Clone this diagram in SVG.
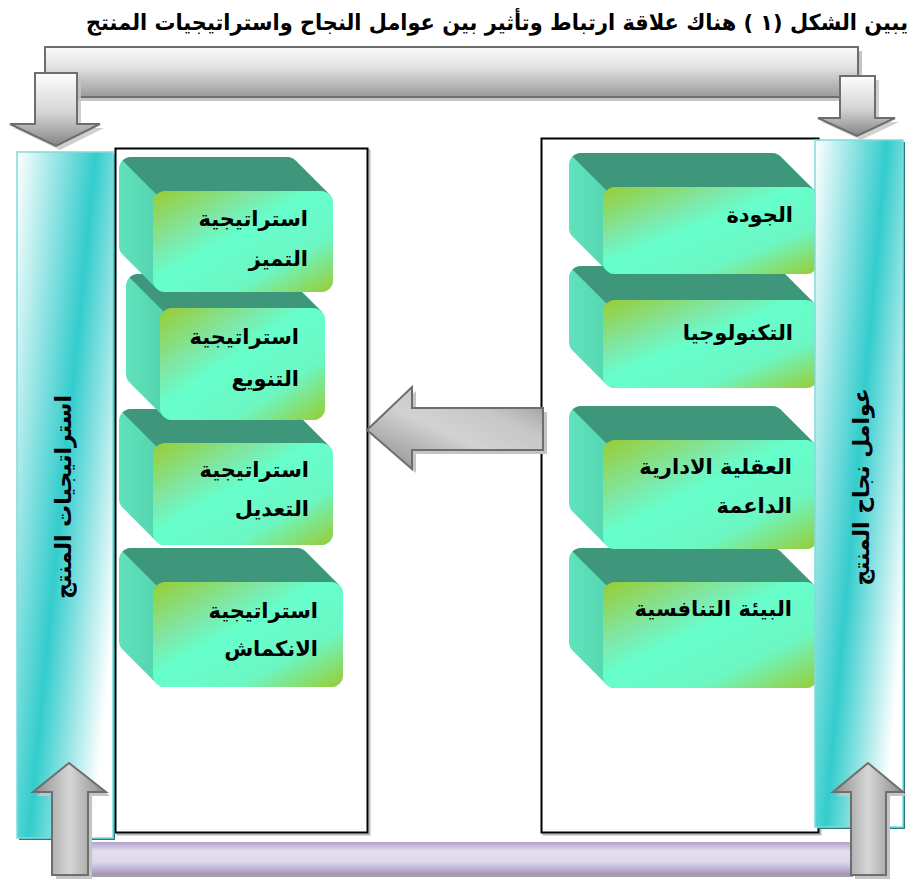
<svg xmlns="http://www.w3.org/2000/svg" width="915" height="882" viewBox="0 0 915 882">
<style>
.t{font-family:'DejaVu Sans',sans-serif;font-weight:bold;font-size:21px;fill:#000;text-anchor:end}
.title{font-family:'DejaVu Sans',sans-serif;font-weight:bold;font-size:22px;fill:#000;text-anchor:end}
.vt{font-family:'DejaVu Sans',sans-serif;font-weight:bold;font-size:22px;fill:#000;text-anchor:middle}
.side{fill:url(#sideG)}
.top{fill:#3f977b}
.front{fill:url(#frontG)}
.box{fill:#fff;stroke:#000;stroke-width:2}
.boxsh{fill:none;stroke:#b8b8b8;stroke-width:2}
.tealbar{fill:url(#tealG);stroke:#80dcdc;stroke-width:1.5}
.tealsh{fill:#2a7c7c}
.garrow{stroke:#6e6e6e;stroke-width:2;stroke-linejoin:miter}
.shadow{fill:#c4c4c4}
</style>
<defs>
<linearGradient id="tealG" x1="0" y1="0" x2="1" y2="0.7">
<stop offset="0" stop-color="#ffffff"/>
<stop offset="0.55" stop-color="#33cccc"/>
<stop offset="1" stop-color="#ffffff"/>
</linearGradient>
<linearGradient id="frontG" x1="0" y1="0" x2="1" y2="1">
<stop offset="0" stop-color="#99cc33"/>
<stop offset="0.3" stop-color="#7ee8a8"/>
<stop offset="0.45" stop-color="#66ffcc"/>
<stop offset="0.72" stop-color="#6cf7c4"/>
<stop offset="1" stop-color="#99cc33"/>
</linearGradient>
<linearGradient id="sideG" x1="0" y1="0" x2="1" y2="0">
<stop offset="0" stop-color="#60e2bd"/>
<stop offset="0.2" stop-color="#52d3ad"/>
<stop offset="1" stop-color="#58d8b2"/>
</linearGradient>
<linearGradient id="barG" x1="0" y1="0" x2="0" y2="1">
<stop offset="0" stop-color="#fbfbfb"/>
<stop offset="0.4" stop-color="#e2e2e2"/>
<stop offset="1" stop-color="#9a9a9a"/>
</linearGradient>
<linearGradient id="downG" x1="0" y1="0" x2="0" y2="1">
<stop offset="0" stop-color="#fdfdfd"/>
<stop offset="0.55" stop-color="#d4d4d4"/>
<stop offset="1" stop-color="#858585"/>
</linearGradient>
<linearGradient id="upG" x1="0" y1="0" x2="1" y2="0">
<stop offset="0" stop-color="#8a8a8a"/>
<stop offset="0.5" stop-color="#d6d6d6"/>
<stop offset="1" stop-color="#8a8a8a"/>
</linearGradient>
<linearGradient id="midG" x1="0" y1="1" x2="1" y2="0">
<stop offset="0" stop-color="#8a8a8a"/>
<stop offset="0.45" stop-color="#d2d2d2"/>
<stop offset="0.7" stop-color="#c6c6c6"/>
<stop offset="1" stop-color="#8e8e8e"/>
</linearGradient>
<linearGradient id="purpleG" x1="0" y1="0" x2="0" y2="1">
<stop offset="0" stop-color="#b3a2cb"/>
<stop offset="0.3" stop-color="#e4dfee"/>
<stop offset="0.65" stop-color="#ddd6ea"/>
<stop offset="1" stop-color="#ad9bc6"/>
</linearGradient>
</defs>

<text class="title" x="908" y="30" textLength="822" lengthAdjust="spacingAndGlyphs">يبين الشكل (١ ) هناك علاقة ارتباط وتأثير بين عوامل النجاح واستراتيجيات المنتج</text>

<g id="containers">
<rect class="boxsh" x="117.5" y="150.5" width="252" height="684"/>
<rect class="box" x="115.5" y="148.5" width="252" height="684"/>
<rect class="boxsh" x="543.5" y="140.5" width="277" height="694"/>
<rect class="box" x="541.5" y="138.5" width="277" height="694"/>
</g>

<!-- Right nodes (drawn bottom to top) -->
<g id="node-r4">
<path class="side" d="M581,548 L772,548 A12,12 0 0 1 780.5,551.5 L814.5,585.5 A12,12 0 0 1 818,594 L818,676 A12,12 0 0 1 806,688 L615,688 A12,12 0 0 1 606.5,684.5 L572.5,650.5 A12,12 0 0 1 569,642 L569,560 A12,12 0 0 1 581,548 Z"/>
<path class="top" d="M572.5,551.5 A12,12 0 0 1 581,548 L772,548 A12,12 0 0 1 780.5,551.5 L814.5,585.5 L806,594 L615,594 L606.5,585.5 Z"/>
<rect class="front" x="603" y="582" width="215" height="106" rx="12"/>
<text class="t" x="792" y="616">البيئة التنافسية</text>
</g>
<g id="node-r3">
<path class="side" d="M581,406 L772,406 A12,12 0 0 1 780.5,409.5 L814.5,443.5 A12,12 0 0 1 818,452 L818,537 A12,12 0 0 1 806,549 L615,549 A12,12 0 0 1 606.5,545.5 L572.5,511.5 A12,12 0 0 1 569,503 L569,418 A12,12 0 0 1 581,406 Z"/>
<path class="top" d="M572.5,409.5 A12,12 0 0 1 581,406 L772,406 A12,12 0 0 1 780.5,409.5 L814.5,443.5 L806,452 L615,452 L606.5,443.5 Z"/>
<rect class="front" x="603" y="440" width="215" height="109" rx="12"/>
<text class="t" x="792" y="474">العقلية الادارية</text>
<text class="t" x="792" y="513">الداعمة</text>
</g>
<g id="node-r2">
<path class="side" d="M581,266 L772,266 A12,12 0 0 1 780.5,269.5 L814.5,303.5 A12,12 0 0 1 818,312 L818,376 A12,12 0 0 1 806,388 L615,388 A12,12 0 0 1 606.5,384.5 L572.5,350.5 A12,12 0 0 1 569,342 L569,278 A12,12 0 0 1 581,266 Z"/>
<path class="top" d="M572.5,269.5 A12,12 0 0 1 581,266 L772,266 A12,12 0 0 1 780.5,269.5 L814.5,303.5 L806,312 L615,312 L606.5,303.5 Z"/>
<rect class="front" x="603" y="300" width="215" height="88" rx="12"/>
<text class="t" x="793" y="340">التكنولوجيا</text>
</g>
<g id="node-r1">
<path class="side" d="M581,153 L772,153 A12,12 0 0 1 780.5,156.5 L814.5,190.5 A12,12 0 0 1 818,199 L818,262 A12,12 0 0 1 806,274 L615,274 A12,12 0 0 1 606.5,270.5 L572.5,236.5 A12,12 0 0 1 569,228 L569,165 A12,12 0 0 1 581,153 Z"/>
<path class="top" d="M572.5,156.5 A12,12 0 0 1 581,153 L772,153 A12,12 0 0 1 780.5,156.5 L814.5,190.5 L806,199 L615,199 L606.5,190.5 Z"/>
<rect class="front" x="603" y="187" width="215" height="87" rx="12"/>
<text class="t" x="793" y="222">الجودة</text>
</g>

<!-- Left nodes (drawn bottom to top) -->
<g id="node-l4">
<path class="side" d="M131,548 L297,548 A12,12 0 0 1 305.5,551.5 L339.5,585.5 A12,12 0 0 1 343,594 L343,675 A12,12 0 0 1 331,687 L165,687 A12,12 0 0 1 156.5,683.5 L122.5,649.5 A12,12 0 0 1 119,641 L119,560 A12,12 0 0 1 131,548 Z"/>
<path class="top" d="M122.5,551.5 A12,12 0 0 1 131,548 L297,548 A12,12 0 0 1 305.5,551.5 L339.5,585.5 L331,594 L165,594 L156.5,585.5 Z"/>
<rect class="front" x="153" y="582" width="190" height="105" rx="12"/>
<text class="t" x="318" y="618">استراتيجية</text>
<text class="t" x="318" y="656">الانكماش</text>
</g>
<g id="node-l3">
<path class="side" d="M131,409 L287,409 A12,12 0 0 1 295.5,412.5 L329.5,446.5 A12,12 0 0 1 333,455 L333,533 A12,12 0 0 1 321,545 L165,545 A12,12 0 0 1 156.5,541.5 L122.5,507.5 A12,12 0 0 1 119,499 L119,421 A12,12 0 0 1 131,409 Z"/>
<path class="top" d="M122.5,412.5 A12,12 0 0 1 131,409 L287,409 A12,12 0 0 1 295.5,412.5 L329.5,446.5 L321,455 L165,455 L156.5,446.5 Z"/>
<rect class="front" x="153" y="443" width="180" height="102" rx="12"/>
<text class="t" x="309" y="477">استراتيجية</text>
<text class="t" x="309" y="516">التعديل</text>
</g>
<g id="node-l2">
<path class="side" d="M138,274 L279,274 A12,12 0 0 1 287.5,277.5 L321.5,311.5 A12,12 0 0 1 325,320 L325,408 A12,12 0 0 1 313,420 L172,420 A12,12 0 0 1 163.5,416.5 L129.5,382.5 A12,12 0 0 1 126,374 L126,286 A12,12 0 0 1 138,274 Z"/>
<path class="top" d="M129.5,277.5 A12,12 0 0 1 138,274 L279,274 A12,12 0 0 1 287.5,277.5 L321.5,311.5 L313,320 L172,320 L163.5,311.5 Z"/>
<rect class="front" x="160" y="308" width="165" height="112" rx="12"/>
<text class="t" x="299" y="344">استراتيجية</text>
<text class="t" x="299" y="386">التنويع</text>
</g>
<g id="node-l1">
<path class="side" d="M131,157 L287,157 A12,12 0 0 1 295.5,160.5 L329.5,194.5 A12,12 0 0 1 333,203 L333,280 A12,12 0 0 1 321,292 L165,292 A12,12 0 0 1 156.5,288.5 L122.5,254.5 A12,12 0 0 1 119,246 L119,169 A12,12 0 0 1 131,157 Z"/>
<path class="top" d="M122.5,160.5 A12,12 0 0 1 131,157 L287,157 A12,12 0 0 1 295.5,160.5 L329.5,194.5 L321,203 L165,203 L156.5,194.5 Z"/>
<rect class="front" x="153" y="191" width="180" height="101" rx="12"/>
<text class="t" x="308" y="226">استراتيجية</text>
<text class="t" x="308" y="266">التميز</text>
</g>

<g id="bar-left">
<rect class="tealsh" x="19" y="154" width="96" height="686"/>
<rect class="tealbar" x="17" y="152" width="96" height="686"/>
<text class="vt" transform="translate(63,497) rotate(-90)" y="8">استراتيجيات المنتج</text>
</g>
<g id="bar-right">
<rect class="tealsh" x="817" y="142" width="88" height="687"/>
<rect class="tealbar" x="815" y="140" width="88" height="687"/>
<text class="vt" transform="translate(861,487) rotate(-90)" y="8">عوامل نجاح المنتج</text>
</g>

<g id="connectors">
<!-- top bent connector -->
<rect class="shadow" x="49" y="51" width="813" height="50"/>
<rect x="45" y="47" width="813" height="50" fill="url(#barG)" class="garrow"/>
<path class="shadow" d="M39,77 L81,77 L81,128 L104,128 L60,150 L14,128 L39,128 Z" opacity="0.8"/>
<path class="garrow" fill="url(#downG)" d="M35,73 L77,73 L77,124 L100,124 L56,146 L10,124 L35,124 Z"/>
<path class="shadow" d="M844,80 L879,80 L879,122 L899,122 L861,140 L822,122 L844,122 Z" opacity="0.8"/>
<path class="garrow" fill="url(#downG)" d="M840,76 L875,76 L875,118 L895,118 L857,136 L818,118 L840,118 Z"/>
<!-- middle arrow -->
<path class="shadow" d="M371,434 L416,391 L416,412 L547,412 L547,454 L416,454 L416,473 Z"/>
<path class="garrow" fill="url(#midG)" d="M367,430 L412,387 L412,408 L543,408 L543,450 L412,450 L412,469 Z"/>
<!-- bottom connector -->
<rect x="87" y="846" width="766" height="31" fill="#a19dab"/>
<rect x="87" y="842" width="764" height="31" fill="url(#purpleG)"/>
<path class="shadow" d="M73,767 L110,796 L92,796 L92,879 L56,879 L56,796 L37,796 Z"/>
<path class="garrow" fill="url(#upG)" d="M69,763 L106,792 L88,792 L88,875 L52,875 L52,792 L33,792 Z"/>
<path class="shadow" d="M872,767 L907,796 L890,796 L890,879 L855,879 L855,796 L837,796 Z"/>
<path class="garrow" fill="url(#upG)" d="M868,763 L903,792 L886,792 L886,875 L851,875 L851,792 L833,792 Z"/>
</g>
</svg>
